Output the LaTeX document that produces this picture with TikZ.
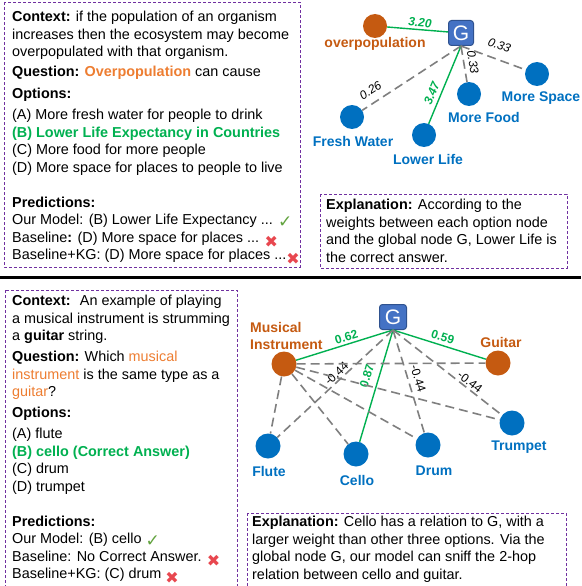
\documentclass[tikz,border=0pt]{standalone}
\usepackage{fontspec}
\setmainfont{Liberation Sans}
\newfontfamily\symfont{DejaVu Sans}
\usetikzlibrary{positioning}

\definecolor{boxpurple}{HTML}{7030A0}
\definecolor{entorange}{HTML}{C55A11}
\definecolor{qorange}{HTML}{ED7D31}
\definecolor{optblue}{HTML}{0070C0}
\definecolor{gfill}{HTML}{4472C4}
\definecolor{gdraw}{HTML}{2F528F}
\definecolor{egreen}{HTML}{00B050}
\definecolor{egray}{HTML}{7F7F7F}
\definecolor{okgreen}{HTML}{62A33F}
\definecolor{nored}{HTML}{E8474F}

\newcommand{\okmark}{\raisebox{-3pt}{\textcolor{okgreen}{\symfont\fontsize{17}{17}\selectfont ✓}}}
\newcommand{\nomark}{\raisebox{-5pt}{\textcolor{nored}{\symfont\fontsize{16}{16}\selectfont ✖}}}

\tikzset{
  qabox/.style = {draw=boxpurple, line width=0.9pt, dash pattern=on 3pt off 2pt},
  qatext/.style = {anchor=north west, inner sep=0pt, align=left,
    font=\fontsize{14.4}{17.5}\selectfont},
  gnode/.style = {rectangle, rounded corners=3pt, fill=gfill, draw=gdraw,
    line width=1pt, minimum width=25pt, minimum height=25pt, inner sep=0pt,
    text=white, font=\fontsize{21}{21}\selectfont},
  opt/.style = {circle, fill=optblue, minimum size=24pt, inner sep=0pt},
  ent/.style = {circle, fill=entorange, minimum size=24pt, inner sep=0pt},
  optlbl/.style = {text=optblue, inner sep=0pt, font=\bfseries\fontsize{14}{17}\selectfont},
  entlbl/.style = {text=entorange, inner sep=0pt, align=left,
    font=\bfseries\fontsize{14}{17}\selectfont},
  strong/.style = {draw=egreen, line width=1.4pt},
  weak/.style = {draw=egray, line width=1.6pt, dash pattern=on 9pt off 5pt},
  wgt/.style = {sloped, inner sep=0pt, font=\fontsize{12}{12}\selectfont},
  wgtg/.style = {wgt, text=egreen, font=\bfseries\fontsize{12}{12}\selectfont}
}

\begin{document}
\begin{tikzpicture}[x=1pt, y=-1pt]
  \useasboundingbox (0,0) rectangle (581,586);

  % frames
  \draw[qabox] (4,2) rectangle (300,267);
  \draw[qabox] (320,194) rectangle (567,268);
  \draw[qabox] (5,290) rectangle (237,600);
  \draw[qabox] (247,513) rectangle (566,600);
  \draw[line width=3pt] (0,277) -- (581,277);

  % first example
  \node[qatext] (qa1) at (12,11) {\textbf{Context:} if the population of an organism\\
    increases then the ecosystem may become\\
    overpopulated with that organism.\\[2.5pt]
    \textbf{Question:} \textcolor{qorange}{\textbf{Overpopulation}} can cause\\[4.5pt]
    \textbf{Options:}\\[3.5pt]
    (A) More fresh water for people to drink\\
    \textcolor{egreen}{\textbf{(B) Lower Life Expectancy in Countries}}\\
    (C) More food for more people\\
    (D) More space for places to people to live\\[17.5pt]
    \textbf{Predictions:}\\
    Our Model: (B) Lower Life Expectancy ... \okmark\\
    Baseline\textbf{:} (D) More space for places ... \nomark\\
    Baseline+KG: (D) More space for places ...\nomark};
  \node[qatext] (ex1) at (326,199) {\textbf{Explanation:} According to the\\
    weights between each option node\\
    and the global node G, Lower Life is\\
    the correct answer.};

  % first graph
  \node[gnode] (G1) at (461,33) {G};
  \node[ent] (ovp) at (375,26) {};
  \node[entlbl] (ovpl) at (375,44) {overpopulation};
  \node[opt] (fw) at (352,117) {};
  \node[optlbl] (fwl) at (353,141) {Fresh Water};
  \node[opt] (ll) at (424,135) {};
  \node[optlbl] (lll) at (428,159) {Lower Life};
  \node[opt] (mf) at (469,94) {};
  \node[optlbl] (mfl) at (484,117) {More Food};
  \node[opt] (ms) at (537,74) {};
  \node[optlbl] (msl) at (541,98) {More Space};

  \draw[strong] (ovp) -- node[wgtg, pos=0.53, above=2pt, font=\bfseries\itshape\fontsize{12}{12}\selectfont] {3.20} (G1);
  \draw[weak] (G1.south) -- node[wgt, pos=0.85, above=7pt, font=\itshape\fontsize{12}{12}\selectfont] {0.26} (fw);
  \draw[strong] (G1.south) -- node[wgtg, pos=0.65, above=4pt, font=\bfseries\itshape\fontsize{12}{12}\selectfont] {3.47} (ll);
  \draw[weak] (G1.south) -- node[wgt, pos=0.49, above=4pt, font=\itshape\fontsize{12}{12}\selectfont] {0.33} (mf);
  \draw[weak] (G1.south) -- node[wgt, pos=0.52, above=9pt, font=\itshape\fontsize{12}{12}\selectfont] {0.33} (ms);

  % second example
  \node[qatext] (qa2) at (12,295) {\textbf{Context:}~ An example of playing\\
    a musical instrument is strumming\\
    a \textbf{guitar} string.\\[3.5pt]
    \textbf{Question:} Which \textcolor{qorange}{musical}\\
    \textcolor{qorange}{instrument} is the same type as a\\
    \textcolor{qorange}{guitar}?\\[3.5pt]
    \textbf{Options:}\\[3.5pt]
    (A) flute\\
    \textcolor{egreen}{\textbf{(B) cello (Correct Answer)}}\\
    (C) drum\\
    (D) trumpet\\[17.5pt]
    \textbf{Predictions:}\\
    Our Model: (B) cello \okmark\\
    Baseline: No Correct Answer. \nomark\\
    Baseline+KG: (C) drum \nomark};
  \node[qatext] (ex2) at (252,516) {\textbf{Explanation:} Cello has a relation to G, with a\\
    larger weight than other three options. Via the\\
    global node G, our model can sniff the 2-hop\\
    relation between cello and guitar.};

  % second graph
  \node[gnode, minimum width=27pt] (G2) at (393,317) {G};
  \node[ent, minimum size=25pt] (mi) at (284,364) {};
  \node[entlbl, anchor=west] (mil) at (250,335.5) {Musical\\Instrument};
  \node[ent, minimum size=25pt] (gt) at (498,363) {};
  \node[entlbl] (gtl) at (501,342) {Guitar};
  \node[opt, minimum size=25pt] (fl) at (268,446) {};
  \node[optlbl] (fll) at (269,471) {Flute};
  \node[opt, minimum size=25pt] (ce) at (356,454) {};
  \node[optlbl] (cel) at (357,480) {Cello};
  \node[opt, minimum size=25pt] (dr) at (428,445) {};
  \node[optlbl] (drl) at (434,471) {Drum};
  \node[opt, minimum size=25pt] (tr) at (512,423) {};
  \node[optlbl] (trl) at (519,447) {Trumpet};

  \draw[strong] (G2.south) -- node[wgtg, pos=0.46, above=2pt] {0.62} (mi);
  \draw[strong] (G2.south) -- node[wgtg, pos=0.51, above=3pt] {0.59} (gt);
  \draw[strong] (G2.south) -- node[wgtg, pos=0.44, above=7pt] {0.87} (ce);
  \draw[weak] (G2.south) -- node[wgt, pos=0.45, above=1.5pt] {-0.44} (fl);
  \draw[weak] (G2.south) -- node[wgt, pos=0.5, above=5pt] {-0.44} (dr);
  \draw[weak] (G2.south) -- node[wgt, pos=0.67, above=1.5pt] {-0.44} (tr);
  \draw[weak] (mi) -- (gt);
  \draw[weak] (mi) -- (fl);
  \draw[weak] (mi) -- (ce);
  \draw[weak] (mi) -- (dr);
  \draw[weak] (mi) -- (tr);
\end{tikzpicture}
\end{document}
